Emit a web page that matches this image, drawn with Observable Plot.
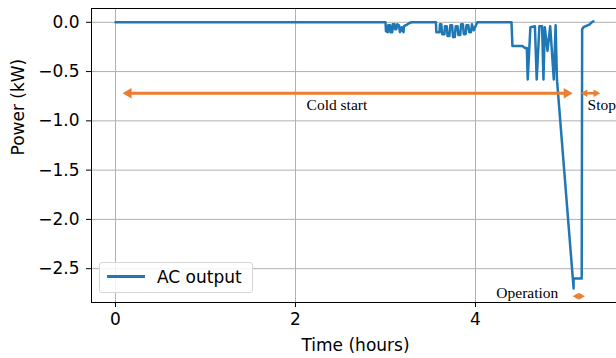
<!DOCTYPE html>
<html>
<head>
<meta charset="utf-8">
<script src="https://cdn.jsdelivr.net/npm/d3@7"></script>
<script src="https://cdn.jsdelivr.net/npm/@observablehq/plot@0.6"></script>
<style>
  html, body { margin: 0; padding: 0; background: #fff; }
  #wrap { position: relative; width: 616px; height: 358px; overflow: hidden; }
  #legend {
    position: absolute; left: 99px; top: 262px; width: 154px; height: 31px;
    box-sizing: border-box; border: 1px solid #d6d6d6; border-radius: 3px;
    background: rgba(255,255,255,0.85);
    font-family: "DejaVu Sans", sans-serif; font-size: 17px; color: #000;
  }
  #legend .swatch { position: absolute; left: 7px; top: 12px; width: 38px; height: 2.5px; background: #1f77b4; }
  #legend .lab { position: absolute; left: 57px; top: 4px; line-height: 20px; white-space: nowrap; }
</style>
</head>
<body>
<div id="wrap">
  <div id="legend"><div class="swatch"></div><div class="lab">AC output</div></div>
</div>
<script>
// ---- data ----
const time = [0, 3.00, 3.005, 3.025, 3.03, 3.05, 3.055, 3.075, 3.08, 3.10, 3.105, 3.12, 3.13, 3.15, 3.16, 3.175, 3.18, 3.20, 3.205, 3.22, 3.23, 3.26, 3.29,
  3.56, 3.565, 3.60, 3.605, 3.62, 3.63, 3.655, 3.66, 3.68, 3.69, 3.71, 3.72, 3.74, 3.75, 3.77, 3.78, 3.80, 3.81, 3.83, 3.84, 3.86, 3.87, 3.89, 3.90, 3.92, 3.93, 3.95, 3.96, 3.98, 3.99, 4.02,
  4.40, 4.41, 4.52, 4.55, 4.57, 4.58, 4.61, 4.66, 4.68, 4.71, 4.74, 4.755, 4.77, 4.80, 4.83, 4.87, 4.89, 4.905,
  5.09, 5.09, 5.18, 5.185, 5.20, 5.27, 5.29, 5.31];
const power = [0, 0, -0.09, -0.10, -0.03, -0.03, -0.10, -0.10, -0.02, -0.02, -0.07, -0.07, -0.02, -0.03, -0.10, -0.08, -0.05, -0.10, -0.04, -0.03, -0.03, -0.01, 0,
  0, -0.10, -0.10, -0.02, -0.02, -0.12, -0.12, -0.04, -0.04, -0.14, -0.14, -0.03, -0.03, -0.15, -0.15, -0.04, -0.04, -0.13, -0.13, -0.02, -0.02, -0.12, -0.12, -0.03, -0.03, -0.10, -0.10, -0.02, -0.08, -0.06, 0,
  0, -0.24, -0.24, -0.26, -0.26, -0.58, -0.05, -0.04, -0.58, -0.04, -0.04, -0.58, -0.05, -0.29, -0.04, -0.58, -0.03, -0.58,
  -2.70, -2.60, -2.60, -0.07, -0.05, -0.02, 0, 0.01];

const xTicks = [0, 2, 4];
const yTicks = [0, -0.5, -1.0, -1.5, -2.0, -2.5];

const arrowLabels = ["Cold start", "Stop", "Operation"];
const arrowStart = [0.078, 5.17, 5.08];
const arrowEnd = [5.08, 5.385, 5.215];
const arrowY = [-0.72, -0.72, -2.78];
const labelX = [2.46, 5.245, 4.92];
const labelY = [-0.835, -0.835, -2.75];

// ---- build ----
const series = time.map((t, i) => ({t, p: power[i]}));
const arrows = arrowLabels.map((label, i) => ({label, x1: arrowStart[i], x2: arrowEnd[i], y: arrowY[i], lx: labelX[i], ly: labelY[i]}));

const orange = "#ED7D31";
const arrowStyle = [
  {head: 9, width: 3, anchor: "middle"},
  {head: 6.5, width: 2.5, anchor: "start"},
  {head: 6, width: 2.5, anchor: "end"}
];

const arrowMarks = arrows.flatMap((a, i) => {
  const s = arrowStyle[i];
  const yy = s.head / 3;
  const r = Math.sqrt(3 * Math.sqrt(3) * yy * yy / Math.PI);
  return [
    Plot.ruleY([a], {y: "y", x1: "x1", x2: "x2", stroke: orange, strokeWidth: s.width, insetLeft: s.head * 0.7, insetRight: s.head * 0.7}),
    Plot.dot([a], {x: "x2", y: "y", symbol: "triangle", r, rotate: 90, fill: orange, stroke: "none", dx: -2 * yy}),
    Plot.dot([a], {x: "x1", y: "y", symbol: "triangle", r, rotate: -90, fill: orange, stroke: "none", dx: 2 * yy}),
    Plot.text([a], {x: "lx", y: "ly", text: "label", textAnchor: s.anchor, fontFamily: "Liberation Serif, Times New Roman, serif", fontSize: 15.5, fill: "black"})
  ];
});

const chart = Plot.plot({
  width: 616,
  height: 358,
  marginLeft: 91,
  marginRight: -3,
  marginTop: 8,
  marginBottom: 56,
  style: {fontFamily: "DejaVu Sans, sans-serif", fontSize: "17px", color: "black", background: "white", overflow: "hidden"},
  x: {domain: [-0.267, 5.6]},
  y: {domain: [-2.843, 0.14]},
  marks: [
    Plot.gridX({ticks: xTicks, stroke: "#b0b0b0", strokeOpacity: 1, strokeWidth: 1}),
    Plot.gridY({ticks: yTicks, stroke: "#b0b0b0", strokeOpacity: 1, strokeWidth: 1}),
    Plot.line(series, {x: "t", y: "p", stroke: "#1f77b4", strokeWidth: 2.5}),
    ...arrowMarks,
    Plot.frame({stroke: "black", strokeWidth: 1}),
    Plot.axisX({ticks: xTicks, tickFormat: d => String(d), tickSize: 5, tickPadding: 5, fontSize: 17, label: null}),
    Plot.axisY({ticks: yTicks, tickFormat: d3.format(".1f"), tickSize: 5, tickPadding: 7, fontSize: 17, label: null}),
    Plot.text(["Time (hours)"], {frameAnchor: "bottom", dy: 48, fontSize: 17, fill: "black"}),
    Plot.text(["Power (kW)"], {frameAnchor: "left", dx: -73, rotate: -90, fontSize: 17, fill: "black"})
  ]
});
document.getElementById("wrap").insertBefore(chart, document.getElementById("legend"));
</script>
</body>
</html>
